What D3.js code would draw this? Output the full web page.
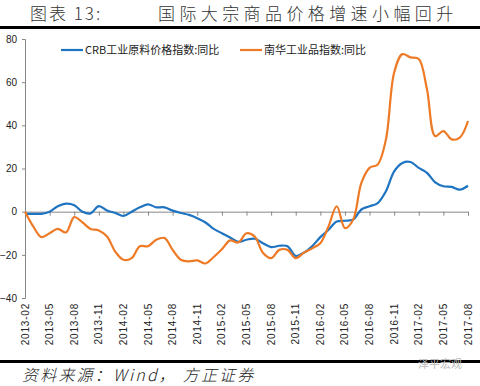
<!DOCTYPE html>
<html>
<head>
<meta charset="utf-8">
<script src="https://cdn.jsdelivr.net/npm/d3@7"></script>
<style>
  body { margin: 0; background: #fff; }
  svg { display: block; }
  text { font-family: "Liberation Sans", Arial, sans-serif; }
  .cjk { font-family: "Noto Sans CJK SC", sans-serif; }
</style>
</head>
<body>
<div id="chart"></div>
<script>
// monthly, 2013-02 .. 2017-08
var months = [];
(function () {
  var y = 2013, m = 2;
  while (y < 2017 || (y === 2017 && m <= 8)) {
    months.push(y + "-" + (m < 10 ? "0" + m : m));
    m++; if (m > 12) { m = 1; y++; }
  }
})();

var crb = [-1, -1, -1, 0, 2.5, 3.7, 3, 0, -0.8, 2.6, 0.5, -0.6, -2, 0,
  2, 3.4, 2, 2, 0.5, -0.6, -1.5, -3, -5, -8, -10, -12, -14, -13,
  -12.5, -14.6, -16.4, -15.8, -16, -20.5, -19, -16, -11.8, -8.4, -4.6, -4.2, -3.7,
  1, 2.5, 4, 9.5, 18.7, 22.6, 23, 20.3, 18, 13.6, 11.8, 11.5, 10.2, 12];

var nanhua = [0, -6.8, -11.8, -10, -8, -9.6, -2.5, -5, -8, -8.7, -11.5, -18.5, -22.3, -21.5,
  -16, -16, -13, -12.2, -17.7, -22.3, -23, -22.6, -24, -21, -17.4, -13.3, -14.3, -10,
  -11.5, -19, -21.5, -17.7, -17.7, -21.5, -19, -17, -14.6, -6.8, 2.5, -7.6, -3.7,
  13.3, 20.3, 21.9, 33.5, 64.5, 73, 71.5, 70.7, 56.7, 35, 37.3, 33.5, 34.3, 42];

var yTicks = [80, 60, 40, 20, 0, -20, -40];
var xTickLabels = months.filter(function (d, i) { return i % 3 === 0; });

var seriesNames = ["CRB工业原料价格指数:同比", "南华工业品指数:同比"];
var colors = ["#1F74C2", "#EE7A26"];

var W = 480, H = 386;
var svg = d3.select("#chart").append("svg").attr("width", W).attr("height", H);

// header
svg.append("text").attr("class", "cjk").attr("x", 30).attr("y", 20)
  .attr("font-size", 17).attr("font-weight", 300).attr("fill", "#333").attr("letter-spacing", 2)
  .text("图表 13:");
svg.append("text").attr("class", "cjk").attr("x", 158).attr("y", 20)
  .attr("font-size", 17).attr("font-weight", 300).attr("fill", "#333").attr("letter-spacing", 4.4)
  .text("国际大宗商品价格增速小幅回升");
svg.append("rect").attr("x", 0).attr("y", 26).attr("width", W).attr("height", 3).attr("fill", "#000");

var x = d3.scaleLinear().domain([0, months.length - 1]).range([25, 468]);
var y = d3.scaleLinear().domain([-40, 80]).range([298, 39]);

// y axis
var yAxis = svg.append("g").attr("transform", "translate(25,0)")
  .call(d3.axisLeft(y).tickValues(yTicks).tickSize(3).tickPadding(5));
yAxis.select(".domain").attr("stroke", "#868686");
yAxis.selectAll(".tick line").attr("stroke", "#868686");
yAxis.selectAll(".tick text").attr("font-size", 10).attr("fill", "#222")
  .attr("font-family", "Liberation Sans, Arial, sans-serif");

// x axis on zero line
var xAxis = svg.append("g").attr("transform", "translate(0," + y(0) + ")")
  .call(d3.axisBottom(x).tickValues(d3.range(0, months.length, 3)).tickSize(4).tickFormat(""));
xAxis.select(".domain").attr("stroke", "#868686");
xAxis.selectAll(".tick line").attr("stroke", "#868686");

// x labels at bottom, rotated
svg.append("g").selectAll("text").data(xTickLabels).enter().append("text")
  .attr("transform", function (d, i) { return "translate(" + (x(i * 3) + 3.5) + ",303) rotate(-90)"; })
  .attr("text-anchor", "end")
  .attr("font-size", 10).attr("letter-spacing", 0.8).attr("fill", "#222")
  .text(function (d) { return d; });

// lines
var line = d3.line()
  .x(function (d, i) { return x(i); })
  .y(function (d) { return y(d); })
  .curve(d3.curveCatmullRom.alpha(0.5));

[crb, nanhua].forEach(function (s, k) {
  svg.append("path").datum(s).attr("d", line)
    .attr("fill", "none").attr("stroke", colors[k]).attr("stroke-width", 2.2);
});

// legend
var legendX = [61, 240];
seriesNames.forEach(function (n, k) {
  svg.append("line").attr("x1", legendX[k]).attr("x2", legendX[k] + 22)
    .attr("y1", 50).attr("y2", 50).attr("stroke", colors[k]).attr("stroke-width", 2.2);
  svg.append("text").attr("class", "cjk").attr("x", legendX[k] + 24).attr("y", 54)
    .attr("font-size", 11).attr("fill", "#222").text(n);
});

// footer
svg.append("rect").attr("x", 0).attr("y", 360).attr("width", W).attr("height", 3).attr("fill", "#000");
svg.append("text").attr("class", "cjk").attr("x", 22).attr("y", 381)
  .attr("font-size", 16).attr("font-style", "italic").attr("font-weight", 300)
  .attr("letter-spacing", 2.2).attr("fill", "#222")
  .text("资料来源：Wind， 方正证券");
svg.append("text").attr("class", "cjk").attr("x", 418).attr("y", 368)
  .attr("font-size", 11).attr("fill", "#bbb").text("泽平宏观");
</script>
</body>
</html>
